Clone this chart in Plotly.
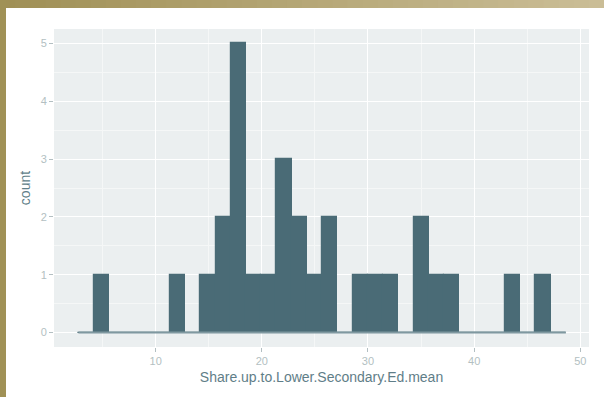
import plotly.graph_objects as go

# Histogram data (ggplot-style bins)
bin_start = 2.72
bin_width = 1.435
counts = [0, 1, 0, 0, 0, 0, 1, 0, 1, 2, 5, 1, 1, 3, 2, 1,
          2, 0, 1, 1, 1, 0, 2, 1, 1, 0, 0, 0, 1, 0, 1, 0]
x_ticks = [10, 20, 30, 40, 50]
y_ticks = [0, 1, 2, 3, 4, 5]
x_title = "Share.up.to.Lower.Secondary.Ed.mean"
y_title = "count"

centers = [bin_start + (i + 0.5) * bin_width for i in range(len(counts))]
edges_lo = bin_start
edges_hi = bin_start + len(counts) * bin_width

W, H = 604, 397
L, R, T, B = 54, 15, 29, 50
pw, ph = W - L - R, H - T - B

def px(xp):
    return (xp - L) / pw

def py(yp):
    return (H - B - yp) / ph

fill = "#4a6b76"
outline = "#7f98a0"
tick_col = "#b3bfc2"
title_col = "#5f7e88"

fig = go.Figure()
fig.add_trace(go.Scatter(
    x=[edges_lo, edges_hi], y=[0, 0], mode="lines",
    line=dict(color=outline, width=2), hoverinfo="skip", showlegend=False))
fig.add_trace(go.Bar(
    x=centers, y=counts, width=bin_width,
    marker=dict(color=fill, line=dict(color=fill, width=1.2)),
    showlegend=False))

shapes = []
# top gradient strip
n = 40
c0 = (160, 144, 86)
c1 = (202, 189, 150)
for i in range(n):
    t = i / (n - 1)
    col = "rgb(%d,%d,%d)" % tuple(int(round(a + (b - a) * t)) for a, b in zip(c0, c1))
    shapes.append(dict(type="rect", xref="paper", yref="paper", layer="above",
                       x0=px(W * i / n), x1=px(W * (i + 1) / n + 1),
                       y0=py(8), y1=py(0), fillcolor=col, line=dict(width=0)))
# left strip
shapes.append(dict(type="rect", xref="paper", yref="paper", layer="above",
                   x0=px(0), x1=px(6), y0=py(H), y1=py(0),
                   fillcolor="rgb(160,145,86)", line=dict(width=0)))

fig.update_layout(
    width=W, height=H,
    margin=dict(l=L, r=R, t=T, b=B),
    paper_bgcolor="white",
    plot_bgcolor="#ebeff0",
    bargap=0,
    font=dict(family="Liberation Sans, Arial, sans-serif"),
    shapes=shapes,
    xaxis=dict(
        range=[0.42, 50.82], tickvals=x_ticks, ticks="outside", ticklen=4,
        tickcolor=tick_col, tickwidth=1,
        tickfont=dict(size=11, color=tick_col),
        showgrid=True, gridcolor="white", gridwidth=1.3,
        minor=dict(dtick=5, tick0=0, showgrid=True, gridcolor="#f5f7f7", gridwidth=0.8),
        zeroline=False, showline=False,
        title=dict(text=x_title, font=dict(size=14, color=title_col), standoff=5),
    ),
    yaxis=dict(
        range=[-0.25, 5.25], tickvals=y_ticks, ticks="outside", ticklen=4,
        tickcolor=tick_col, tickwidth=1,
        tickfont=dict(size=11, color=tick_col),
        showgrid=True, gridcolor="white", gridwidth=1.3,
        minor=dict(dtick=0.5, tick0=0, showgrid=True, gridcolor="#f5f7f7", gridwidth=0.8),
        zeroline=False, showline=False,
        title=dict(text=y_title, font=dict(size=14, color=title_col), standoff=6),
    ),
)

fig.write_html("out.html")
